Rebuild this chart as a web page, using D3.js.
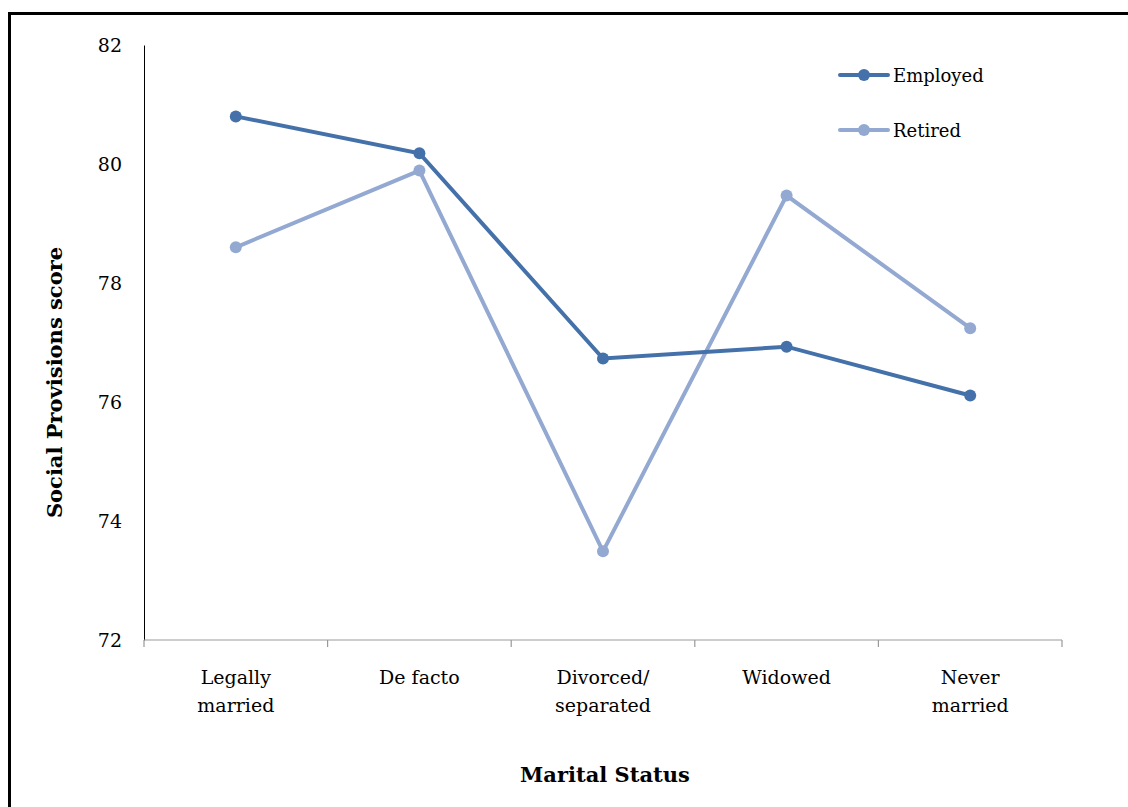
<!DOCTYPE html>
<html>
<head>
<meta charset="utf-8">
<script src="https://cdn.jsdelivr.net/npm/d3@7"></script>
<style>
  body { margin: 0; background: #fff; }
  svg { display: block; }
  text { font-family: "DejaVu Serif", "Liberation Serif", serif; fill: #000; }
</style>
</head>
<body>
<svg id="chart"></svg>
<script>

var categories = [["Legally", "married"], ["De facto"], ["Divorced/", "separated"], ["Widowed"], ["Never", "married"]];
var employed = [80.8, 80.18, 76.73, 76.93, 76.11];
var retired = [78.6, 79.89, 73.49, 79.47, 77.24];
var seriesNames = ["Employed", "Retired"];
var seriesColors = ["#4571aa", "#93a9d1"];
var yTicks = [72, 74, 76, 78, 80, 82];

(function(){

var W = 1128, H = 807;
var mLeft = 144, mRight = 1062, mTop = 45, mBottom = 640;

var svg = d3.select("#chart").attr("width", W).attr("height", H);

// outer frame (only top and left show inside the picture)
svg.append("rect")
  .attr("x", 9.5).attr("y", 13.5)
  .attr("width", W + 20).attr("height", H + 20)
  .attr("fill", "none").attr("stroke", "#000").attr("stroke-width", 3);

var x = d3.scaleBand().domain(d3.range(categories.length)).range([mLeft, mRight]);
var y = d3.scaleLinear().domain([72, 82]).range([mBottom, mTop]);

// y axis
var yAxis = svg.append("g")
  .attr("transform", "translate(" + mLeft + ",0)")
  .call(d3.axisLeft(y).tickValues(yTicks).tickSize(0).tickPadding(22));
yAxis.select(".domain").attr("stroke", "#000").attr("stroke-width", 1);
yAxis.selectAll("text")
  .style("font-family", "DejaVu Serif, serif")
  .style("font-size", "19px");

// x axis
var xAxis = svg.append("g")
  .attr("transform", "translate(0," + mBottom + ")");
xAxis.append("line")
  .attr("x1", mLeft).attr("x2", mRight)
  .attr("stroke", "#999").attr("stroke-width", 1.2);
xAxis.selectAll(".tk")
  .data(d3.range(categories.length + 1))
  .enter().append("line")
  .attr("x1", function(d){ return mLeft + d * x.bandwidth(); })
  .attr("x2", function(d){ return mLeft + d * x.bandwidth(); })
  .attr("y1", 0).attr("y2", 7)
  .attr("stroke", "#999").attr("stroke-width", 1.2);

xAxis.selectAll(".lbl")
  .data(categories)
  .enter().append("text")
  .attr("text-anchor", "middle")
  .style("font-size", "19px")
  .attr("transform", function(d, i){
    return "translate(" + (x(i) + x.bandwidth() / 2) + ",44)";
  })
  .each(function(d){
    var t = d3.select(this);
    d.forEach(function(s, j){
      t.append("tspan").attr("x", 0).attr("dy", j ? 28 : 0).text(s);
    });
  });

// axis titles
svg.append("text")
  .attr("x", (mLeft + mRight) / 2 + 2).attr("y", 782)
  .attr("text-anchor", "middle")
  .style("font-size", "21px").style("font-weight", "bold")
  .text("Marital Status");

svg.append("text")
  .attr("transform", "translate(62," + ((mTop + mBottom) / 2 + 40) + ") rotate(-90)")
  .attr("text-anchor", "middle")
  .style("font-size", "21px").style("font-weight", "bold")
  .text("Social Provisions score");

// lines
var line = d3.line()
  .x(function(d, i){ return x(i) + x.bandwidth() / 2; })
  .y(function(d){ return y(d); });

var data = [employed, retired];

// draw retired first so employed sits on top
[1, 0].forEach(function(k){
  var g = svg.append("g");
  g.append("path")
    .datum(data[k])
    .attr("d", line)
    .attr("fill", "none")
    .attr("stroke", seriesColors[k])
    .attr("stroke-width", 4);
  g.selectAll("circle")
    .data(data[k])
    .enter().append("circle")
    .attr("cx", function(d, i){ return x(i) + x.bandwidth() / 2; })
    .attr("cy", function(d){ return y(d); })
    .attr("r", 6)
    .attr("fill", seriesColors[k]);
});

// legend
var legend = svg.append("g").attr("transform", "translate(840,75)");
seriesNames.forEach(function(name, i){
  var row = legend.append("g").attr("transform", "translate(0," + (i * 55) + ")");
  row.append("line")
    .attr("x1", 0).attr("x2", 48)
    .attr("stroke", seriesColors[i]).attr("stroke-width", 4)
    .attr("stroke-linecap", "round");
  row.append("circle").attr("cx", 24).attr("r", 6).attr("fill", seriesColors[i]);
  row.append("text")
    .attr("x", 53).attr("y", 7)
    .style("font-size", "18px")
    .text(name);
});

})();

</script>
</body>
</html>
